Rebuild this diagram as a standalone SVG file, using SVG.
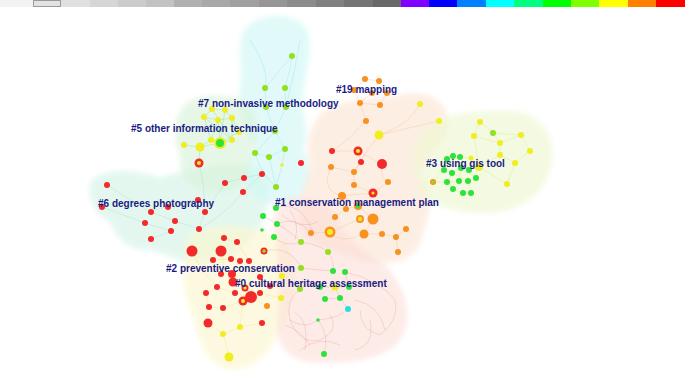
<svg xmlns="http://www.w3.org/2000/svg" width="685" height="373" viewBox="0 0 685 373">
<defs>
<filter id="soft" x="-10%" y="-10%" width="120%" height="120%"><feGaussianBlur stdDeviation="2.5"/></filter>
</defs>
<style>
.lbl{font-family:"Liberation Sans",Arial,sans-serif;font-weight:bold;font-size:10px;fill:#1a1a82}
.r{fill:#f32a2a}.o{fill:#f7921e}.y{fill:#f0ee1e}.g{fill:#2ee23c}.yg{fill:#93e01e}.c{fill:#22e0e0}
.e{fill:none;stroke-width:0.5}
.e7{stroke:#6fd8cf;opacity:.5}.e5{stroke:#5fd68a;opacity:.6}.e3{stroke:#d2e87a;opacity:.7}
.e0{stroke:#e07a7a;opacity:.45}.e1{stroke:#eea870;opacity:.5}.e2{stroke:#efde70;opacity:.6}.e6{stroke:#7ad6b2;opacity:.5}
.blob{filter:url(#soft)}
</style>
<rect width="685" height="373" fill="#ffffff"/>
<g id="legend-bar">
<rect x="0" y="0" width="33" height="7" fill="#f2f2f2"/>
<rect x="33.5" y="0.5" width="27" height="6" fill="#e2e2e2" stroke="#9a9a9a" stroke-width="1"/>
<rect x="61" y="0" width="29" height="7" fill="#e0e0e0"/>
<rect x="90" y="0" width="28" height="7" fill="#d6d6d6"/>
<rect x="118" y="0" width="28" height="7" fill="#cccccc"/>
<rect x="146" y="0" width="28" height="7" fill="#c2c2c2"/>
<rect x="174" y="0" width="28" height="7" fill="#b0b0b0"/>
<rect x="202" y="0" width="28" height="7" fill="#a8a8a8"/>
<rect x="230" y="0" width="29" height="7" fill="#a0a0a0"/>
<rect x="259" y="0" width="28" height="7" fill="#969696"/>
<rect x="287" y="0" width="29" height="7" fill="#8c8c8c"/>
<rect x="316" y="0" width="28" height="7" fill="#808080"/>
<rect x="344" y="0" width="29" height="7" fill="#747474"/>
<rect x="373" y="0" width="28" height="7" fill="#686868"/>
<rect x="401" y="0" width="28" height="7" fill="#8000ff"/>
<rect x="429" y="0" width="28" height="7" fill="#0000ff"/>
<rect x="457" y="0" width="29" height="7" fill="#0080ff"/>
<rect x="486" y="0" width="28" height="7" fill="#00ffff"/>
<rect x="514" y="0" width="29" height="7" fill="#00ff80"/>
<rect x="543" y="0" width="28" height="7" fill="#00ff00"/>
<rect x="571" y="0" width="28" height="7" fill="#80ff00"/>
<rect x="599" y="0" width="29" height="7" fill="#ffff00"/>
<rect x="628" y="0" width="28" height="7" fill="#ff8000"/>
<rect x="656" y="0" width="29" height="7" fill="#ff0000"/>
</g>
<g id="cluster-areas">
<path class="blob" d="M 92 180 C 108 166, 140 170, 160 178 C 185 168, 230 160, 262 168 C 275 180, 270 215, 255 235 C 240 255, 215 268, 190 262 C 170 258, 160 252, 150 250 C 130 252, 115 238, 110 222 C 95 215, 84 195, 92 180 Z" fill="#d2f3e6" opacity="0.6"/>
<path class="blob" d="M 244 30 C 255 12, 294 10, 306 28 C 315 45, 306 70, 303 95 C 300 115, 312 130, 303 150 C 312 160, 312 185, 300 198 C 285 210, 258 205, 250 190 C 240 175, 245 158, 255 148 C 245 135, 236 110, 240 85 C 243 65, 236 45, 244 30 Z" fill="#d2f8f6" opacity="0.65"/>
<path class="blob" d="M 182 108 C 190 92, 240 90, 252 108 C 262 125, 255 150, 250 165 C 246 185, 230 195, 212 192 C 190 190, 178 175, 180 155 C 172 140, 174 120, 182 108 Z" fill="#d8f3d8" opacity="0.6"/>
<path class="blob" d="M 320 115 C 340 95, 380 100, 400 95 C 425 88, 450 100, 448 125 C 446 145, 425 155, 420 175 C 440 195, 425 225, 420 245 C 410 265, 380 268, 355 258 C 330 250, 305 245, 300 225 C 295 205, 305 185, 310 165 C 305 145, 308 128, 320 115 Z" fill="#fcdfca" opacity="0.5"/>
<path class="blob" d="M 425 130 C 440 112, 490 108, 520 112 C 550 120, 560 150, 548 175 C 540 200, 510 215, 480 213 C 450 212, 425 205, 418 185 C 410 165, 412 145, 425 130 Z" fill="#eef8d2" opacity="0.65"/>
<path class="blob" d="M 195 232 C 215 222, 265 225, 285 240 C 300 260, 295 300, 285 320 C 275 345, 260 368, 235 370 C 210 370, 200 345, 195 325 C 188 305, 180 285, 185 262 C 182 250, 185 238, 195 232 Z" fill="#fdf7d0" opacity="0.65"/>
<path class="blob" d="M 285 200 C 300 192, 325 200, 335 215 C 345 240, 365 250, 385 265 C 405 285, 415 320, 400 340 C 385 360, 345 365, 310 362 C 285 360, 273 340, 278 315 C 282 290, 275 265, 278 245 C 270 225, 272 208, 285 200 Z" fill="#fcdcd5" opacity="0.55"/>
</g>
<g id="connectors">
<path class="e e7" d="M292 56 Q280 70 265 88 M292 56 Q290 72 285 88 M265 88 L266 107 M285 88 L286 107 M266 107 Q270 120 275 131 M286 107 L275 131 M275 131 L285 149 M275 131 L255 153 M255 153 L269 157 M269 157 L285 149 M269 157 L276 187 M285 149 L282 165 M255 153 Q262 175 276 187 M282 165 L276 187 M250 40 Q270 70 265 88 M300 40 Q295 70 286 107"/>
<path class="e e5" d="M212 109 L225 110 L232 118 L218 120 L204 117 L212 109 M204 117 L211 140 L220 143 L232 140 L232 118 M218 120 L220 143 M200 147 L220 143 M184 145 L200 147 L211 140 M225 110 L220 143 M212 109 L232 140 M204 117 L232 140 M200 147 L199 163 M220 143 L239 132 L232 118 M211 140 L218 120"/>
<path class="e e6" d="M107 185 Q130 200 151 212 M102 207 L145 223 M151 212 L175 221 M145 223 L171 231 M175 221 L199 229 M171 231 L151 239 M199 229 L205 212 M205 212 L225 183 M225 183 L244 178 L262 174 M243 192 L262 174 M199 163 Q205 190 205 212 M151 212 Q180 200 198 200 M199 229 Q225 215 243 192"/>
<path class="e e3" d="M480 122 L474 136 L500 143 L521 135 L530 151 L515 163 L500 155 L500 143 M480 122 L493 133 L500 143 M479 167 L500 155 M479 167 L507 184 M474 136 L479 167 M493 133 L521 135 M515 163 L507 184 M453 156 L460 157 L469 170 L461 168 L452 173 L444 170 L447 159 L453 156 M447 182 L459 181 L468 181 L476 178 L469 170 M452 173 L447 182 M461 168 L459 181 M453 189 L463 193 L471 193 L468 181 M453 189 L447 182 M433 182 L447 182 M460 157 L471 158 L479 167 M444 170 L433 182 M461 168 L476 178 M452 173 L468 181"/>
<path class="e e1" d="M379 135 Q410 125 420 104 M379 135 L439 121 M366 120 Q350 140 332 151 M358 151 L332 151 M358 151 L382 164 M358 151 L361 162 M361 162 L354 172 L331 167 M354 172 L354 185 L373 193 M388 182 L373 193 M373 193 L342 196 M342 196 L358 206 L346 209 M346 209 L335 217 M358 206 L373 219 M360 219 L330 232 M330 232 L311 233 M373 219 L364 234 L382 234 L396 237 M406 229 L396 237 L398 252 M364 234 Q340 245 330 232 M379 135 Q360 160 354 172 M331 167 Q320 190 342 196 M382 164 Q380 180 388 182"/>
<path class="e e1" d="M365 79 L379 81 L387 93 L380 105 L360 103 L354 90 L365 79 M372 93 L360 103 M366 120 L360 103"/>
<path class="e e2" d="M224 238 L237 242 L249 261 M213 260 L231 259 L240 261 M221 274 L232 274 L233 281 L245 288 M217 287 L235 293 L251 297 M206 293 L209 307 L223 308 L243 301 M251 297 L267 306 M260 277 L270 286 L282 276 M260 293 L281 298 M240 327 L223 334 L229 357 M208 323 L223 334 M243 301 L240 327 M192 251 Q200 270 217 287 M221 251 Q225 265 221 274 M262 323 L240 327"/>
<path class="e e0" d="M276 208 Q300 200 312 230 M263 216 Q290 230 301 242 M277 224 Q295 215 311 233 M274 237 Q285 248 301 242 M264 251 Q290 245 301 268 M301 242 Q320 245 328 252 M328 252 Q335 262 333 271 M301 268 Q318 270 333 271 M300 289 Q310 280 320 287 M320 287 L335 287 L349 287 M325 299 L340 298 L348 309 M335 287 L340 298 M345 272 L349 287 M318 320 Q305 330 290 320 M318 320 Q330 335 324 354 M318 320 Q340 318 348 309 M290 320 Q300 345 320 340 M320 340 Q340 330 330 315 M345 272 Q380 280 395 300 Q400 320 380 335 M380 335 Q360 330 360 310 M300 289 Q285 300 290 320 M290 210 Q300 225 295 240 M282 215 Q300 230 318 222"/>
<path class="e e0" d="M285 325 Q300 330 310 345 M295 312 Q310 322 305 350 M300 350 Q320 335 340 345 M355 300 Q380 305 385 330 M370 320 Q375 345 355 350"/>
</g>
<g id="nodes">
<g id="c7">
<circle class="yg" cx="292" cy="56" r="3"/><circle class="yg" cx="265" cy="88" r="3"/><circle class="yg" cx="285" cy="88" r="3"/>
<circle class="yg" cx="266" cy="107" r="3"/><circle class="yg" cx="286" cy="107" r="3"/><circle class="yg" cx="275" cy="131" r="3"/>
<circle class="yg" cx="285" cy="149" r="3"/><circle class="yg" cx="255" cy="153" r="3"/><circle class="yg" cx="269" cy="157" r="3"/>
<circle class="yg" cx="276" cy="187" r="3"/><circle class="y" cx="282" cy="165" r="1.8"/>
</g>
<g id="c5">
<circle class="y" cx="212" cy="109" r="3"/><circle class="y" cx="225" cy="110" r="3"/><circle class="y" cx="204" cy="117" r="3"/>
<circle class="y" cx="232" cy="118" r="3"/><circle class="y" cx="218" cy="120" r="3"/><circle class="y" cx="239" cy="132" r="3"/>
<circle class="y" cx="211" cy="140" r="3"/><circle class="y" cx="232" cy="140" r="3"/><circle class="y" cx="200" cy="147" r="4.5"/>
<circle class="y" cx="184" cy="145" r="3"/>
<circle class="y" cx="220" cy="143" r="6"/><circle class="g" cx="220" cy="143" r="4"/>
<circle class="r" cx="199" cy="163" r="4.5"/><circle class="y" cx="199" cy="163" r="2"/>
</g>
<g id="c6">
<circle class="r" cx="107" cy="185" r="3"/><circle class="r" cx="102" cy="207" r="3"/><circle class="r" cx="151" cy="212" r="3"/>
<circle class="r" cx="145" cy="223" r="3"/><circle class="r" cx="168" cy="207" r="3"/><circle class="r" cx="175" cy="221" r="3"/>
<circle class="r" cx="171" cy="231" r="3"/><circle class="r" cx="151" cy="239" r="3"/><circle class="r" cx="199" cy="229" r="3"/>
<circle class="r" cx="205" cy="212" r="3"/><circle class="r" cx="198" cy="200" r="3"/><circle class="r" cx="225" cy="183" r="3"/>
<circle class="r" cx="244" cy="178" r="3"/><circle class="r" cx="243" cy="192" r="3"/><circle class="r" cx="262" cy="174" r="3"/>
<circle class="r" cx="301" cy="163" r="3"/>
</g>
<g id="c2">
<circle class="r" cx="192" cy="251" r="5.5"/><circle class="r" cx="221" cy="251" r="5.5"/><circle class="r" cx="224" cy="238" r="3"/>
<circle class="r" cx="237" cy="242" r="3"/><circle class="r" cx="213" cy="260" r="3"/><circle class="r" cx="231" cy="259" r="3"/>
<circle class="r" cx="240" cy="261" r="3"/><circle class="r" cx="249" cy="261" r="3"/><circle class="r" cx="221" cy="274" r="3"/>
<circle class="r" cx="232" cy="274" r="4"/><circle class="r" cx="233" cy="282" r="4.5"/><circle class="r" cx="260" cy="277" r="3"/>
<circle class="r" cx="270" cy="286" r="3"/><circle class="r" cx="217" cy="287" r="3"/><circle class="r" cx="235" cy="293" r="3"/>
<circle class="r" cx="251" cy="297" r="6"/><circle class="r" cx="206" cy="293" r="3"/><circle class="r" cx="260" cy="293" r="3"/>
<circle class="r" cx="209" cy="307" r="3"/><circle class="r" cx="223" cy="308" r="3"/><circle class="o" cx="267" cy="306" r="3"/>
<circle class="r" cx="208" cy="323" r="4.5"/><circle class="r" cx="262" cy="323" r="3"/>
<circle class="r" cx="245" cy="288" r="3.5"/><circle class="y" cx="245" cy="288" r="1.6"/>
<circle class="r" cx="243" cy="301" r="4.5"/><circle class="y" cx="243" cy="301" r="2"/>
<circle class="y" cx="282" cy="276" r="3"/><circle class="y" cx="281" cy="298" r="3"/><circle class="y" cx="240" cy="327" r="3"/>
<circle class="y" cx="223" cy="334" r="3"/><circle class="y" cx="229" cy="357" r="4.5"/>
</g>
<g id="c0">
<circle class="g" cx="276" cy="208" r="3"/><circle class="g" cx="263" cy="216" r="3"/><circle class="g" cx="277" cy="224" r="3"/>
<circle class="g" cx="262" cy="230" r="1.8"/><circle class="g" cx="274" cy="237" r="3"/>
<circle class="r" cx="264" cy="251" r="3.5"/><circle class="yg" cx="264" cy="251" r="1.8"/>
<circle class="yg" cx="301" cy="242" r="3"/><circle class="yg" cx="328" cy="252" r="3"/><circle class="yg" cx="301" cy="268" r="3"/>
<circle class="g" cx="333" cy="271" r="3"/><circle class="g" cx="345" cy="272" r="3"/><circle class="yg" cx="300" cy="289" r="3"/>
<circle class="g" cx="320" cy="287" r="3"/><circle class="y" cx="335" cy="287" r="3.5"/><circle class="g" cx="349" cy="287" r="3"/>
<circle class="g" cx="325" cy="299" r="3"/><circle class="g" cx="340" cy="298" r="3"/><circle class="c" cx="348" cy="309" r="3"/>
<circle class="g" cx="318" cy="320" r="1.8"/><circle class="g" cx="324" cy="354" r="3"/>
</g>
<g id="c1">
<circle class="o" cx="342" cy="196" r="4"/>
<circle class="o" cx="358" cy="206" r="4"/><circle class="g" cx="358" cy="206" r="2.2"/>
<circle class="r" cx="373" cy="193" r="4.5"/><circle class="y" cx="373" cy="193" r="1.6"/>
<circle class="o" cx="335" cy="217" r="3"/><circle class="o" cx="346" cy="209" r="3"/>
<circle class="o" cx="360" cy="219" r="4"/><circle class="y" cx="360" cy="219" r="2"/>
<circle class="o" cx="373" cy="219" r="5.5"/>
<circle class="o" cx="330" cy="232" r="5.5"/><circle class="y" cx="330" cy="232" r="3"/>
<circle class="o" cx="311" cy="233" r="3"/><circle class="o" cx="364" cy="234" r="4.5"/><circle class="o" cx="382" cy="234" r="3"/>
<circle class="o" cx="396" cy="237" r="3"/><circle class="o" cx="406" cy="229" r="3"/><circle class="o" cx="398" cy="252" r="3"/>
<circle class="y" cx="379" cy="135" r="4.5"/><circle class="o" cx="366" cy="121" r="3"/><circle class="y" cx="439" cy="121" r="3"/>
<circle class="y" cx="420" cy="104" r="3"/>
<circle class="r" cx="332" cy="151" r="3"/>
<circle class="r" cx="358" cy="151" r="4.5"/><circle class="y" cx="358" cy="151" r="2"/>
<circle class="r" cx="361" cy="162" r="3"/><circle class="r" cx="382" cy="164" r="5"/>
<circle class="o" cx="331" cy="167" r="3"/><circle class="o" cx="354" cy="172" r="3"/><circle class="o" cx="388" cy="182" r="3"/>
<circle class="o" cx="354" cy="185" r="3"/>
</g>
<g id="c19">
<circle class="o" cx="365" cy="79" r="3"/><circle class="o" cx="379" cy="81" r="3"/><circle class="o" cx="354" cy="90" r="3"/>
<circle class="o" cx="387" cy="93" r="3"/><circle class="o" cx="372" cy="93" r="3"/><circle class="o" cx="360" cy="103" r="3"/>
<circle class="o" cx="380" cy="105" r="3"/>
</g>
<g id="c3">
<circle class="y" cx="480" cy="122" r="3"/><circle class="y" cx="474" cy="136" r="3"/><circle class="y" cx="521" cy="135" r="3"/>
<circle class="y" cx="500" cy="143" r="3"/><circle class="y" cx="530" cy="151" r="3"/><circle class="y" cx="500" cy="155" r="3"/>
<circle class="y" cx="515" cy="163" r="3"/><circle class="y" cx="479" cy="167" r="4"/><circle class="y" cx="507" cy="184" r="3"/>
<circle class="y" cx="471" cy="158" r="2.5"/><circle class="yg" cx="493" cy="133" r="3"/>
<circle class="g" cx="453" cy="156" r="3"/><circle class="g" cx="460" cy="157" r="3"/><circle class="g" cx="447" cy="159" r="3"/>
<circle class="g" cx="444" cy="170" r="3"/><circle class="g" cx="452" cy="173" r="3"/><circle class="g" cx="461" cy="168" r="3"/>
<circle class="g" cx="469" cy="170" r="3"/><circle class="g" cx="447" cy="182" r="3"/><circle class="g" cx="459" cy="181" r="3"/>
<circle class="g" cx="468" cy="181" r="3"/><circle class="g" cx="476" cy="178" r="3"/><circle class="g" cx="453" cy="189" r="3"/>
<circle class="g" cx="463" cy="193" r="3"/><circle class="g" cx="471" cy="193" r="3"/>
<circle class="o" cx="433" cy="182" r="3"/><circle class="yg" cx="433" cy="182" r="1.6"/>
</g>
</g>
<g id="labels">
<text class="lbl" x="198" y="107">#7 non-invasive methodology</text>
<text class="lbl" x="131" y="132">#5 other information technique</text>
<text class="lbl" x="336" y="93">#19 mapping</text>
<text class="lbl" x="426" y="167">#3 using gis tool</text>
<text class="lbl" x="98" y="207">#6 degrees photography</text>
<text class="lbl" x="275" y="206">#1 conservation management plan</text>
<text class="lbl" x="166" y="272">#2 preventive conservation</text>
<text class="lbl" x="235" y="287">#0 cultural heritage assessment</text>
</g>
</svg>
